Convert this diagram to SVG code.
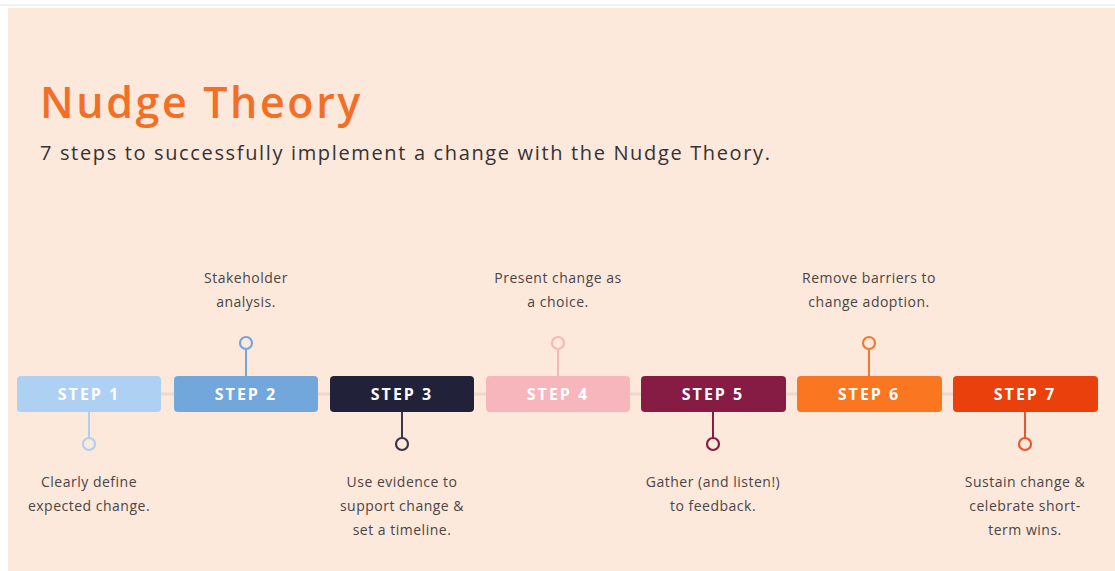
<svg xmlns="http://www.w3.org/2000/svg" width="1115" height="571" viewBox="0 0 1115 571">
  <style>
    .title { font-family: "Open Sans", "Liberation Sans", sans-serif; font-weight: 600; font-size: 43px; fill: #f26f25; letter-spacing: 2.6px; }
    .sub { font-family: "Open Sans", "Liberation Sans", sans-serif; font-size: 20px; fill: #333333; letter-spacing: 1.65px; }
    .lbl { font-family: "Open Sans", "Liberation Sans", sans-serif; font-weight: 700; font-size: 16px; fill: #ffffff; letter-spacing: 2px; text-anchor: middle; }
    .note { font-family: "Open Sans", "Liberation Sans", sans-serif; font-size: 14px; fill: #4a4545; text-anchor: middle; letter-spacing: 0.5px; }
    .stem { stroke-width: 2; fill: none; }
    .dot { stroke-width: 2.2; fill: #fde8dc; }
  </style>

  <!-- page -->
  <rect x="0" y="0" width="1115" height="571" fill="#ffffff"/>
  <line x1="0" y1="5" x2="1115" y2="5" stroke="#eeeeee" stroke-width="1.5"/>
  <rect x="8" y="8" width="1107" height="563" fill="#fde8dc"/>

  <text class="title" x="40" y="118">Nudge Theory</text>
  <text class="sub" x="40" y="160">7 steps to successfully implement a change with the Nudge Theory.</text>

  <!-- timeline rail and callout stems -->
  <g id="connectors">
    <line x1="17" y1="394" x2="1098" y2="394" stroke="#f1d6c9" stroke-width="3"/>
    <path class="stem" stroke="#aed0f3" d="M89 412 V438"/>
    <path class="stem" stroke="#72a7dc" d="M246 376 V349"/>
    <path class="stem" stroke="#3a3548" d="M402 412 V438"/>
    <path class="stem" stroke="#f7b6bc" d="M558 376 V349"/>
    <path class="stem" stroke="#861c43" d="M713 412 V438"/>
    <path class="stem" stroke="#f07a35" d="M869 376 V349"/>
    <path class="stem" stroke="#e3582c" d="M1025 412 V438"/>
  </g>

  <g id="step1">
    <rect x="17" y="376" width="144" height="36" rx="4" fill="#aed0f3"/>
    <text class="lbl" x="89" y="400">STEP 1</text>
    <circle class="dot" cx="89" cy="444" r="6" stroke="#aed0f3"/>
    <text class="note" x="89" y="487">Clearly define</text>
    <text class="note" x="89" y="511">expected change.</text>
  </g>

  <g id="step2">
    <rect x="174" y="376" width="144" height="36" rx="4" fill="#72a7dc"/>
    <text class="lbl" x="246" y="400">STEP 2</text>
    <circle class="dot" cx="246" cy="343" r="6" stroke="#72a7dc"/>
    <text class="note" x="246" y="283">Stakeholder</text>
    <text class="note" x="246" y="307">analysis.</text>
  </g>

  <g id="step3">
    <rect x="330" y="376" width="144" height="36" rx="4" fill="#22213a"/>
    <text class="lbl" x="402" y="400">STEP 3</text>
    <circle class="dot" cx="402" cy="444" r="6" stroke="#3a3548"/>
    <text class="note" x="402" y="487">Use evidence to</text>
    <text class="note" x="402" y="511">support change &amp;</text>
    <text class="note" x="402" y="535">set a timeline.</text>
  </g>

  <g id="step4">
    <rect x="486" y="376" width="144" height="36" rx="4" fill="#f7b6bc"/>
    <text class="lbl" x="558" y="400">STEP 4</text>
    <circle class="dot" cx="558" cy="343" r="6" stroke="#f7b6bc"/>
    <text class="note" x="558" y="283">Present change as</text>
    <text class="note" x="558" y="307">a choice.</text>
  </g>

  <g id="step5">
    <rect x="641" y="376" width="145" height="36" rx="4" fill="#861c43"/>
    <text class="lbl" x="713" y="400">STEP 5</text>
    <circle class="dot" cx="713" cy="444" r="6" stroke="#861c43"/>
    <text class="note" x="713" y="487">Gather (and listen!)</text>
    <text class="note" x="713" y="511">to feedback.</text>
  </g>

  <g id="step6">
    <rect x="797" y="376" width="145" height="36" rx="4" fill="#fa7620"/>
    <text class="lbl" x="869" y="400">STEP 6</text>
    <circle class="dot" cx="869" cy="343" r="6" stroke="#f07a35"/>
    <text class="note" x="869" y="283">Remove barriers to</text>
    <text class="note" x="869" y="307">change adoption.</text>
  </g>

  <g id="step7">
    <rect x="953" y="376" width="145" height="36" rx="4" fill="#e9400c"/>
    <text class="lbl" x="1025" y="400">STEP 7</text>
    <circle class="dot" cx="1025" cy="444" r="6" stroke="#e3582c"/>
    <text class="note" x="1025" y="487">Sustain change &amp;</text>
    <text class="note" x="1025" y="511">celebrate short-</text>
    <text class="note" x="1025" y="535">term wins.</text>
  </g>
</svg>
